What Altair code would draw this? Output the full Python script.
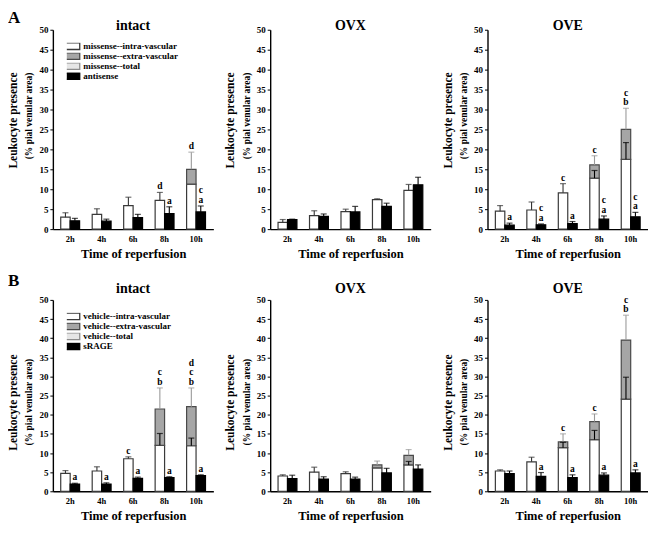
import altair as alt
import pandas as pd

FONT = "Liberation Serif"

times = ["2h", "4h", "6h", "8h", "10h"]
A_names = ["missense--intra-vascular", "missense--extra-vascular", "missense--total", "antisense"]
B_names = ["vehicle--intra-vascular", "vehicle--extra-vascular", "vehicle--total", "sRAGE"]
series_fills = ["#ffffff", "#a6a6a6", "#e6e6e6", "#000000"]
series_strokes = ["#3a3a3a", "#4a4a4a", "#8c8c8c", "#000000"]

# ---------------- Row A (missense / antisense) ----------------
A_intact_intra = [3.0, 3.7, 5.9, 7.2, 11.3]
A_intact_total = [3.0, 3.7, 5.9, 7.2, 15.0]
A_intact_intra_err = [None, None, None, None, None]
A_intact_total_err = [4.1, 5.1, 8.0, 9.2, 19.3]
A_intact_treat = [2.1, 2.0, 2.9, 3.9, 4.3]
A_intact_treat_err = [2.7, 2.5, 3.7, 5.6, 5.8]
A_intact_lab_l = ["", "", "", "d", "d"]
A_intact_lab_r = ["", "", "", "a", "c\na"]

A_ovx_intra = [1.7, 3.4, 4.4, 7.4, 9.7]
A_ovx_total = [1.7, 3.4, 4.4, 7.4, 9.7]
A_ovx_intra_err = [None, None, None, None, None]
A_ovx_total_err = [2.4, 4.6, 5.0, 7.6, 11.2]
A_ovx_treat = [2.4, 3.2, 4.3, 5.7, 11.1]
A_ovx_treat_err = [2.5, 3.8, 5.7, 6.5, 13.0]
A_ovx_lab_l = ["", "", "", "", ""]
A_ovx_lab_r = ["", "", "", "", ""]

A_ove_intra = [4.5, 4.8, 9.1, 12.8, 17.5]
A_ove_total = [4.5, 4.8, 9.1, 16.1, 25.0]
A_ove_intra_err = [None, None, None, 14.7, 21.7]
A_ove_total_err = [5.9, 6.8, 11.4, 18.4, 30.3]
A_ove_treat = [1.0, 1.1, 1.4, 2.5, 3.1]
A_ove_treat_err = [1.5, 1.3, 1.9, 3.3, 4.2]
A_ove_lab_l = ["", "", "c", "c", "c\nb"]
A_ove_lab_r = ["a", "c\na", "a", "c\na", "c\na"]

# ---------------- Row B (vehicle / sRAGE) ----------------
B_intact_intra = [4.7, 5.3, 8.5, 12.0, 11.9]
B_intact_total = [4.7, 5.3, 8.5, 21.5, 22.1]
B_intact_intra_err = [None, None, None, 15.1, 13.9]
B_intact_total_err = [5.4, 6.4, 9.0, 27.0, 27.0]
B_intact_treat = [1.9, 1.9, 3.4, 3.6, 4.1]
B_intact_treat_err = [2.1, 2.2, 3.7, 3.8, 4.3]
B_intact_lab_l = ["", "", "c", "c\nb", "d\nc\nb"]
B_intact_lab_r = ["a", "a", "a", "a", "a"]

B_ovx_intra = [4.0, 5.0, 4.6, 6.1, 6.9]
B_ovx_total = [4.0, 5.0, 4.6, 6.9, 9.4]
B_ovx_intra_err = [None, None, None, None, 7.8]
B_ovx_total_err = [4.3, 6.3, 5.1, 7.9, 10.9]
B_ovx_treat = [3.3, 3.2, 3.2, 4.8, 5.8]
B_ovx_treat_err = [4.2, 3.8, 3.7, 6.0, 6.9]
B_ovx_lab_l = ["", "", "", "", ""]
B_ovx_lab_r = ["", "", "", "", ""]

B_ove_intra = [5.3, 7.7, 11.4, 13.5, 24.1]
B_ove_total = [5.3, 7.7, 12.9, 18.2, 39.5]
B_ove_intra_err = [None, None, 12.8, 15.9, 29.8]
B_ove_total_err = [5.6, 8.9, 15.0, 20.2, 46.0]
B_ove_treat = [4.6, 3.9, 3.6, 4.2, 4.8]
B_ove_treat_err = [5.3, 4.9, 4.3, 4.8, 5.6]
B_ove_lab_l = ["", "", "c", "c", "c\nb"]
B_ove_lab_r = ["", "a", "a", "a", "a"]

W = 161
LINE_H = 9.7
yscale = alt.Scale(domain=[0, 50], nice=False, zero=True)
xscale = alt.Scale(domain=times, paddingInner=0.4, paddingOuter=0.25)
xo = alt.XOffset("side:N", scale=alt.Scale(domain=["L", "R"], paddingInner=0, paddingOuter=0))
SYM = "M-2.55,-1H2.55V1H-2.55Z"


def panel(names, intra, total, intra_err, total_err, treat, treat_err, lab_l, lab_r,
          title, tag, show_legend, H, title_base, tag_top, lk_shift, yt_shift):
    bar_rows, err_rows, lab_rows = [], [], []
    for i, t in enumerate(times):
        has_extra = total[i] > intra[i]
        bar_rows.append({"time": t, "side": "L", "series": names[0], "y0": 0.0, "y1": intra[i]})
        if has_extra:
            bar_rows.append({"time": t, "side": "L", "series": names[1], "y0": intra[i], "y1": total[i]})
        bar_rows.append({"time": t, "side": "R", "series": names[3], "y0": 0.0, "y1": treat[i]})
        err_rows.append({"time": t, "side": "L", "lo": total[i], "hi": total_err[i],
                         "col": "#9a9a9a" if has_extra else "#333333"})
        if intra_err[i] is not None:
            err_rows.append({"time": t, "side": "L", "lo": intra[i], "hi": intra_err[i], "col": "#000000"})
        err_rows.append({"time": t, "side": "R", "lo": treat[i], "hi": treat_err[i], "col": "#000000"})
        for side, txt, top in (("L", lab_l[i], total_err[i]), ("R", lab_r[i], treat_err[i])):
            if txt:
                for k, letter in enumerate(reversed(txt.split("\n"))):
                    lab_rows.append({"time": t, "side": side, "y": top, "txt": letter, "k": k})

    x_axis = alt.Axis(title="Time of reperfusion", labelAngle=0, ticks=False, labelPadding=5,
                      titlePadding=5)
    y_axis = alt.Axis(values=list(range(0, 51, 5)), title="(% pial venular area)",
                      titleY=H / 2 + yt_shift, titlePadding=5)
    if show_legend:
        leg = alt.Legend(orient="none", legendX=14, legendY=13, title=None, symbolType=SYM,
                         symbolSize=44, symbolStrokeWidth=1.3, labelFont=FONT, labelFontSize=9,
                         labelFontWeight="bold", labelColor="black", labelOffset=7.5,
                         clipHeight=7, rowPadding=0, padding=0)
    else:
        leg = None

    xe = alt.X("time:N", scale=xscale, axis=x_axis, sort=times)

    def ye(field):
        return alt.Y(field, scale=yscale, axis=y_axis)

    bars = alt.Chart(pd.DataFrame(bar_rows)).mark_bar(strokeWidth=1.2).encode(
        x=xe,
        xOffset=xo,
        y=ye("y0:Q"),
        y2="y1:Q",
        fill=alt.Fill("series:N", scale=alt.Scale(domain=names, range=series_fills), legend=leg, title=None),
        stroke=alt.Stroke("series:N", scale=alt.Scale(domain=names, range=series_strokes), legend=leg, title=None),
    )
    errs = alt.Chart(pd.DataFrame(err_rows))
    rules = errs.mark_rule(strokeWidth=1.1).encode(
        x=xe, xOffset=xo,
        y=ye("lo:Q"), y2="hi:Q",
        color=alt.Color("col:N", scale=None),
    )
    caps = errs.mark_tick(size=6, thickness=1.2, orient="horizontal").encode(
        x=xe, xOffset=xo,
        y=ye("hi:Q"),
        color=alt.Color("col:N", scale=None),
    )
    layers = [bars, rules, caps]
    if lab_rows:
        lab_df = pd.DataFrame(lab_rows)
        for k in sorted(lab_df["k"].unique()):
            sub = lab_df[lab_df["k"] == k]
            layers.append(
                alt.Chart(sub).mark_text(
                    font=FONT, fontWeight="bold", fontSize=9.5, baseline="alphabetic",
                    dy=-3 - LINE_H * int(k), color="black"
                ).encode(x=xe, xOffset=xo, y=ye("y:Q"), text="txt:N")
            )
    ttl = alt.Chart(pd.DataFrame({"t": [title]})).mark_text(
        font=FONT, fontWeight="bold", fontSize=14, baseline="alphabetic", align="center", color="black"
    ).encode(x=alt.value(W / 2), y=alt.value(title_base), text="t:N")
    lk = alt.Chart(pd.DataFrame({"t": ["Leukocyte presence"]})).mark_text(
        font=FONT, fontWeight="bold", fontSize=11.5, angle=270, baseline="middle", align="center", color="black"
    ).encode(x=alt.value(-39), y=alt.value(H / 2 + lk_shift), text="t:N")
    layers += [ttl, lk]
    if tag:
        tg = alt.Chart(pd.DataFrame({"t": [tag]})).mark_text(
            font=FONT, fontWeight="bold", fontSize=17, baseline="top", align="left", color="black"
        ).encode(x=alt.value(-45), y=alt.value(tag_top), text="t:N")
        layers.append(tg)
    return alt.layer(*layers).properties(width=W, height=H)


HA, HB = 200, 192
rowA = alt.hconcat(
    panel(A_names, A_intact_intra, A_intact_total, A_intact_intra_err, A_intact_total_err,
          A_intact_treat, A_intact_treat_err, A_intact_lab_l, A_intact_lab_r,
          "intact", "A", True, HA, 0, -20, -9, -14),
    panel(A_names, A_ovx_intra, A_ovx_total, A_ovx_intra_err, A_ovx_total_err,
          A_ovx_treat, A_ovx_treat_err, A_ovx_lab_l, A_ovx_lab_r,
          "OVX", "", False, HA, 0, -20, -9, -14),
    panel(A_names, A_ove_intra, A_ove_total, A_ove_intra_err, A_ove_total_err,
          A_ove_treat, A_ove_treat_err, A_ove_lab_l, A_ove_lab_r,
          "OVE", "", False, HA, 0, -20, -9, -14),
    spacing=12,
).resolve_scale(fill="independent", stroke="independent")

rowB = alt.hconcat(
    panel(B_names, B_intact_intra, B_intact_total, B_intact_intra_err, B_intact_total_err,
          B_intact_treat, B_intact_treat_err, B_intact_lab_l, B_intact_lab_r,
          "intact", "B", True, HB, -7, -27, 7, 6),
    panel(B_names, B_ovx_intra, B_ovx_total, B_ovx_intra_err, B_ovx_total_err,
          B_ovx_treat, B_ovx_treat_err, B_ovx_lab_l, B_ovx_lab_r,
          "OVX", "", False, HB, -7, -27, 7, 6),
    panel(B_names, B_ove_intra, B_ove_total, B_ove_intra_err, B_ove_total_err,
          B_ove_treat, B_ove_treat_err, B_ove_lab_l, B_ove_lab_r,
          "OVE", "", False, HB, -7, -27, 7, 6),
    spacing=12,
).resolve_scale(fill="independent", stroke="independent")

chart = (
    alt.vconcat(rowA, rowB, spacing=12)
    .resolve_scale(fill="independent", stroke="independent")
    .properties(padding=0)
    .configure(font=FONT)
    .configure_view(stroke=None)
    .configure_axis(
        labelFont=FONT, labelFontWeight="bold", labelColor="black",
        titleFont=FONT, titleFontWeight="bold", titleColor="black",
        domainColor="black", tickColor="black", grid=False, domainWidth=1.4,
    )
    .configure_axisX(labelFontSize=8.5, titleFontSize=12.5)
    .configure_axisY(labelFontSize=9, titleFontSize=9.5, tickSize=3, labelPadding=2)
)

chart.save("out.html", embed_options={"renderer": "svg", "actions": False})
